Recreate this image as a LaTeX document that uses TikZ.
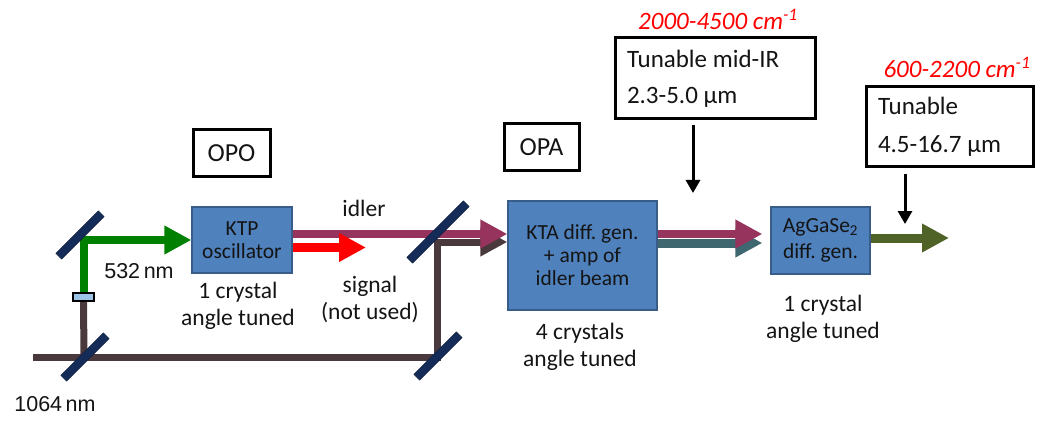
\documentclass[tikz,border=0pt]{standalone}
\usepackage{fontspec}
\setmainfont{Carlito}
\newfontfamily\arialf{Liberation Sans}
\usetikzlibrary{arrows.meta,calc}
\definecolor{boxblue}{RGB}{79,129,189}
\definecolor{boxedge}{RGB}{56,93,138}
\definecolor{mirrorc}{RGB}{22,44,88}
\definecolor{greenb}{RGB}{0,128,0}
\definecolor{brownb}{RGB}{74,57,60}
\definecolor{purpleb}{RGB}{150,52,94}
\definecolor{redb}{RGB}{255,0,0}
\definecolor{tealb}{RGB}{62,103,112}
\definecolor{oliveb}{RGB}{79,98,40}
\definecolor{filterc}{RGB}{157,195,230}
\definecolor{txt}{RGB}{20,20,20}
\frenchspacing
\begin{document}
\begin{tikzpicture}[x=1pt,y=-1pt,
  crystal/.style={draw=boxedge, line width=1.2pt, fill=boxblue, align=flush center, text=txt, inner sep=0pt,
     font=\fontsize{21.5}{23}\selectfont},
  mirror/.style={draw=mirrorc!70!black, fill=mirrorc, line width=0.5pt, minimum width=#1, minimum height=8pt, inner sep=0pt, rotate=45},
  beam/.style={line width=#1, -{Triangle[length=27pt 0 0, width=27pt 0 0]}},
  labelbox/.style={draw=black, line width=3pt, inner sep=0pt, text=txt},
  lab/.style={align=flush center, text=txt, font=\fontsize{23.5}{27}\selectfont},
  wl/.style={text=txt, font=\arialf\fontsize{21.5}{24}\selectfont},
  red label/.style={text=redb, font=\fontsize{25}{28}\selectfont\itshape},
  vdown/.style={line width=3pt, -{Triangle[length=13pt 0 0, width=14pt 0 0]}}
]
\useasboundingbox (0,0) rectangle (1038,422);

% helper coordinates
\coordinate (src) at (33,357);
\coordinate (sigend) at (366,247.5);
\coordinate (outend) at (949,238);
\coordinate (a1s) at (693,125);
\coordinate (a1e) at (693,193);
\coordinate (a2s) at (905,174);
\coordinate (a2e) at (905,224);

% crystals
\node[crystal, minimum width=100pt, minimum height=66pt] (ktp) at (242,240) {KTP\\oscillator};
\node[crystal, minimum width=149pt, minimum height=109pt] (opa) at (582.5,255.5) {KTA diff. gen.\\+ amp of\\idler beam};
\node[crystal, minimum width=99pt, minimum height=67pt, font=\fontsize{21.5}{26}\selectfont] (ags) at (820.5,240.5) {AgGaSe\textsubscript{2}\\diff. gen.};

% filter position
\path (83.5,297) node[minimum width=21pt, minimum height=8pt, inner sep=0pt] (filt) {};

% beams
\draw[brownb, line width=7pt] (src) -- (84,357);
\draw[brownb, line width=7pt] (filt.south) -- (84,357);
\draw[brownb, beam=7pt] (84,357) -- (437,357) -- (437,242) -- ([yshift=13.5pt]opa.west);
\draw[greenb, beam=8pt] (filt.north) |- (ktp.west);
\draw[purpleb, beam=8pt] ([yshift=6pt]ktp.east) -- ([yshift=21.5pt]opa.west);
\draw[redb, beam=9pt] ([yshift=-7.5pt]ktp.east) -- (sigend);
\draw[tealb, beam=9pt] ([yshift=12.5pt]opa.east) -- ([xshift=-8pt,yshift=-2.5pt]ags.west);
\draw[purpleb, beam=8pt] ([yshift=21.5pt]opa.east) -- ([xshift=-8pt,yshift=6.5pt]ags.west);
\draw[oliveb, beam=9pt] ([yshift=2.5pt]ags.east) -- (outend);

% mirrors
\node[mirror=60pt] (m1) at (80,235) {};
\node[mirror=60pt] (m2) at (85,357) {};
\node[mirror=80pt] (m3) at (438,232) {};
\node[mirror=60pt] (m4) at (438,356) {};

% filter drawn on top
\node[draw=black, line width=2.5pt, fill=filterc, minimum width=21pt, minimum height=8pt, inner sep=0pt] at (filt) {};

% stage labels
\node[labelbox, minimum width=77pt, minimum height=47pt, font=\fontsize{26}{28}\selectfont] (opo) at (231.5,153.5) {OPO};
\node[labelbox, minimum width=75pt, minimum height=47pt, font=\fontsize{26}{28}\selectfont] (opal) at (541.5,147.5) {OPA};

% output boxes
\node[labelbox, text width=176pt, inner xsep=12pt, minimum height=81pt, align=flush left, font=\fontsize{25}{36}\selectfont] (mir) at (715,78.5) {Tunable mid-IR\\2.3-5.0 μm};
\node[labelbox, text width=143pt, inner xsep=12pt, minimum height=80pt, align=flush left, font=\fontsize{25}{38}\selectfont] (far) at (949.5,127) {Tunable\\4.5-16.7 μm};
\node[red label] (r1) at (718,19) {2000-4500 cm\textsuperscript{-1}};
\node[red label] (r2) at (957,67) {600-2200 cm\textsuperscript{-1}};
\draw[vdown] (a1s) -- (a1e);
\draw[vdown] (a2s) -- (a2e);

% texts
\node[wl] (w532) at (139,271) {532\,nm};
\node[wl] (w1064) at (55,404) {1064\,nm};
\node[lab] (l1) at (238,306) {1 crystal\\angle tuned};
\node[lab] (lid) at (364,208) {idler};
\node[lab] (lsig) at (370,299) {signal\\(not used)};
\node[lab] (l4) at (580,347) {4 crystals\\angle tuned};
\node[lab] (l5) at (823,319) {1 crystal\\angle tuned};
\end{tikzpicture}
\end{document}
